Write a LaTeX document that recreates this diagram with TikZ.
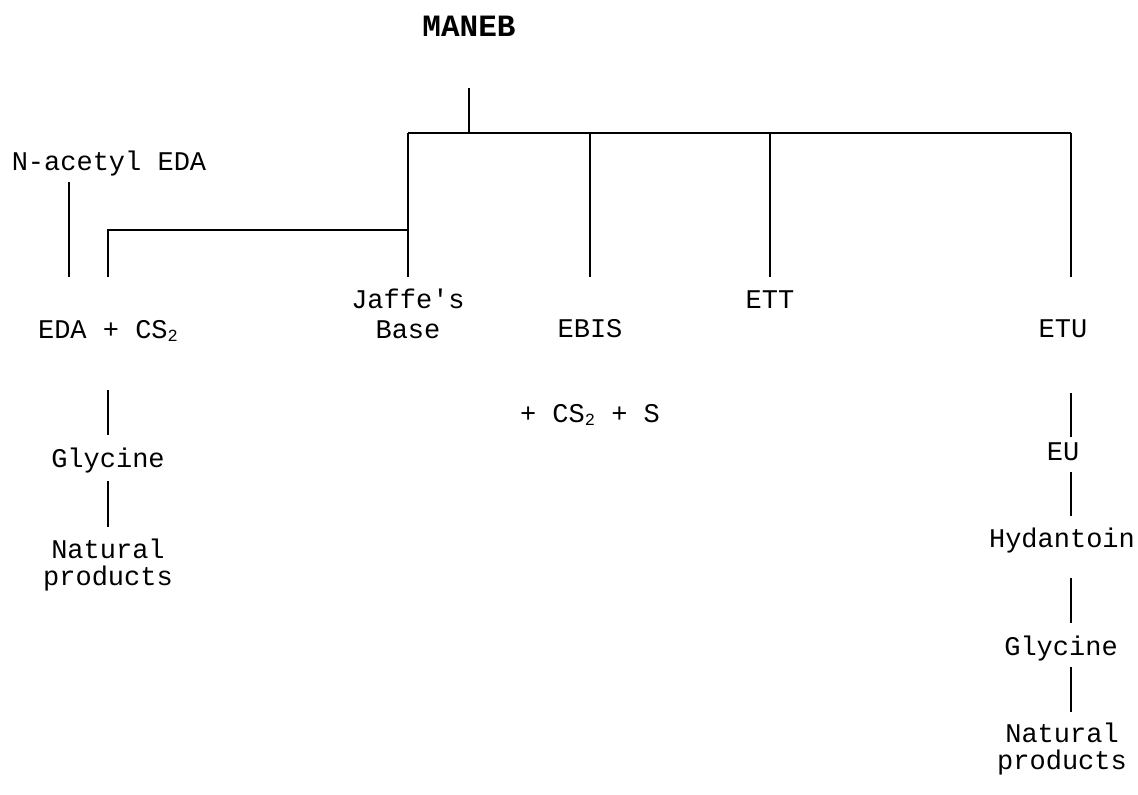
\documentclass[tikz,border=0pt]{standalone}
\usepackage{fontspec}
\setmainfont{Liberation Mono}[Ligatures=TeXOff]
\begin{document}
\begin{tikzpicture}[x=1pt,y=-1pt,
  lbl/.style={inner sep=0pt,anchor=base,align=center,font=\fontsize{27}{27}\selectfont},
  title/.style={inner sep=0pt,anchor=base,font=\fontsize{31}{31}\selectfont\bfseries},
  conn/.style={line width=2pt}]
\useasboundingbox (0,0) rectangle (1138,795);
\newcommand{\subtwo}{\raisebox{-3pt}{\fontsize{17}{17}\selectfont 2}}
% nodes (multi-line nodes are placed at the baseline of their last line)
\node[title] (maneb) at (469,36) {MANEB};
\node[lbl] (nacetyl) at (109,170) {N-acetyl EDA};
\node[lbl] (eda) at (108,338) {EDA + CS\subtwo};
\node[lbl,font=\fontsize{27}{30}\selectfont] (jaffe) at (408,338) {Jaffe's\\Base};
\node[lbl] (ebis) at (590,337) {EBIS};
\node[lbl] (ett) at (770,308) {ETT};
\node[lbl] (etu) at (1063,337) {ETU};
\node[lbl] (cs2s) at (590,422) {+ CS\subtwo{} + S};
\node[lbl] (glyL) at (108,467) {Glycine};
\node[lbl] (natL) at (108,585) {Natural\\products};
\node[lbl] (eu) at (1063,460) {EU};
\node[lbl] (hyd) at (1062,547) {Hydantoin};
\node[lbl] (glyR) at (1061,655) {Glycine};
\node[lbl] (natR) at (1062,769) {Natural\\products};
% junction coordinates
\coordinate (mTop) at (469,88);
\coordinate (mBar) at (469,133);
\coordinate (barL) at (408,133);
\coordinate (barR) at (1071,133);
\coordinate (bEbis) at (590,133);
\coordinate (bEtt) at (770,133);
\coordinate (jEnd) at (408,277);
\coordinate (jMid) at (408,230);
\coordinate (eCorner) at (108,230);
\coordinate (eEnd) at (108,277);
\coordinate (nTop) at (69,182);
\coordinate (nEnd) at (69,277);
\coordinate (ebisEnd) at (590,277);
\coordinate (ettEnd) at (770,277);
\coordinate (etuEnd) at (1071,277);
% connectors
\draw[conn] (mTop) -- (mBar);
\draw[conn] (barL) -- (barR);
\draw[conn] (barL) -- (jEnd);
\draw[conn] (bEbis) -- (ebisEnd);
\draw[conn] (bEtt) -- (ettEnd);
\draw[conn] (barR) -- (etuEnd);
\draw[conn] (jMid) -- (eCorner) -- (eEnd);
\draw[conn] (nTop) -- (nEnd);
% left chain
\coordinate (l1a) at (108,390); \coordinate (l1b) at (108,435);
\coordinate (l2a) at (108,481); \coordinate (l2b) at (108,527);
\draw[conn] (l1a) -- (l1b);
\draw[conn] (l2a) -- (l2b);
% right chain
\coordinate (r1a) at (1071,393); \coordinate (r1b) at (1071,437);
\coordinate (r2a) at (1071,472); \coordinate (r2b) at (1071,516);
\coordinate (r3a) at (1071,578); \coordinate (r3b) at (1071,623);
\coordinate (r4a) at (1071,667); \coordinate (r4b) at (1071,712);
\draw[conn] (r1a) -- (r1b);
\draw[conn] (r2a) -- (r2b);
\draw[conn] (r3a) -- (r3b);
\draw[conn] (r4a) -- (r4b);
\end{tikzpicture}
\end{document}
